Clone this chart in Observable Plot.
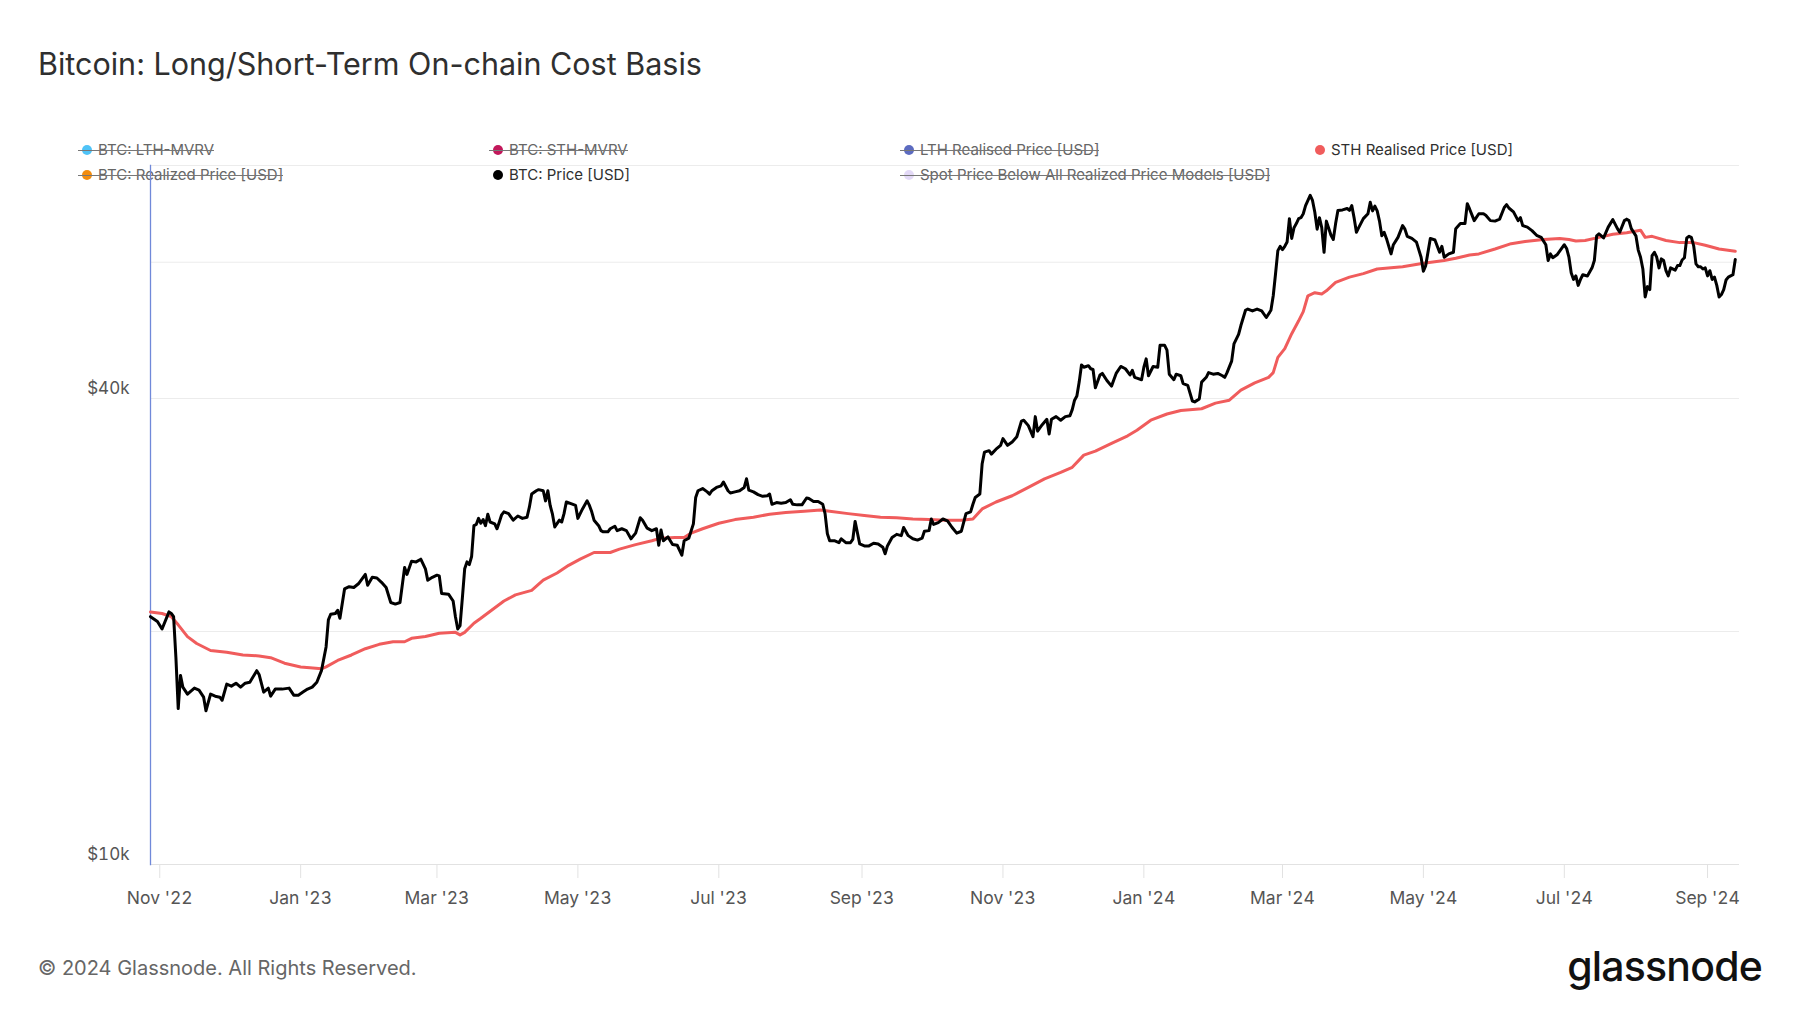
<!DOCTYPE html>
<html>
<head>
<meta charset="utf-8">
<script src="https://cdn.jsdelivr.net/npm/d3@7"></script>
<script src="https://cdn.jsdelivr.net/npm/@observablehq/plot@0.6"></script>
<style>
  html, body { margin: 0; padding: 0; background: #fff; }
  #page { position: relative; width: 1800px; height: 1013px; overflow: hidden; font-family: Inter, "Noto Sans", sans-serif; }
  #title { position: absolute; left: 38px; top: 48px; font-size: 30.5px; line-height: 31px; color: #2f2f2f; white-space: nowrap; }
  #chart { position: absolute; left: 0; top: 100px; }
  .leg { position: absolute; font-size: 15px; line-height: 16px; white-space: nowrap; display: flex; align-items: center; }
  .leg .dot { width: 10px; height: 10px; border-radius: 50%; margin-right: 6px; flex: none; }
  .leg.off { color: #666; }
  .leg.on { color: #2f2f2f; }
  .leg.off::after { content: ""; position: absolute; left: -4px; right: 0; top: 8px; height: 1px; background: #777; }
  #caption { position: absolute; left: 38px; top: 958px; font-size: 20px; line-height: 20px; color: #666; white-space: nowrap; }
  #logo { position: absolute; right: 38px; top: 944px; font-size: 41px; line-height: 44px; font-weight: 500; color: #111; letter-spacing: -0.8px; white-space: nowrap; }
</style>
</head>
<body>
<div id="page">
  <div id="title"></div>
  <div id="legend"></div>
  <div id="chart"></div>
  <div id="caption"></div>
  <div id="logo"></div>
</div>
<script>
// ---------------- DATA ----------------
const chartTitle = "Bitcoin: Long/Short-Term On-chain Cost Basis";
const captionText = "© 2024 Glassnode. All Rights Reserved.";
const logoText = "glassnode";

const legendLabels = [
  "BTC: LTH-MVRV", "BTC: STH-MVRV", "LTH Realised Price [USD]", "STH Realised Price [USD]",
  "BTC: Realized Price [USD]", "BTC: Price [USD]", "Spot Price Below All Realized Price Models [USD]"
];
const legendActive = [false, false, false, true, false, true, false];

const xTickDates = ["2022-11-01","2023-01-01","2023-03-01","2023-05-01","2023-07-01","2023-09-01",
  "2023-11-01","2024-01-01","2024-03-01","2024-05-01","2024-07-01","2024-09-01"];
const xDomain = ["2022-10-28T00:00Z", "2024-09-14T20:00Z"];
const yDomain = [10000, 80000];
const yGridValues = [10000, 20000, 40000, 60000, 80000];
const yLabelValues = [10000, 40000];

// STH Realised Price [USD]
const sthRealisedPrice = [
["2022-10-28",21200],["2022-11-02",21100],["2022-11-06",20900],["2022-11-09",20400],["2022-11-13",19700],
["2022-11-17",19300],["2022-11-23",18900],["2022-11-30",18800],["2022-12-07",18650],["2022-12-14",18600],
["2022-12-19",18500],["2022-12-25",18200],["2023-01-01",18000],["2023-01-05",17950],["2023-01-10",17900],
["2023-01-12",18000],["2023-01-17",18350],["2023-01-23",18650],["2023-01-29",19000],["2023-02-04",19250],
["2023-02-10",19400],["2023-02-15",19400],["2023-02-18",19600],["2023-02-24",19700],["2023-03-02",19900],
["2023-03-09",19950],["2023-03-11",19800],["2023-03-13",19950],["2023-03-17",20500],["2023-03-20",20800],
["2023-03-30",21900],["2023-04-04",22300],["2023-04-11",22600],["2023-04-16",23300],["2023-04-22",23800],
["2023-04-27",24350],["2023-05-02",24800],["2023-05-08",25300],["2023-05-15",25300],["2023-05-19",25550],
["2023-05-26",25900],["2023-06-02",26200],["2023-06-06",26400],["2023-06-12",26450],["2023-06-16",26450],
["2023-06-19",26800],["2023-06-24",27150],["2023-07-01",27600],["2023-07-08",27900],["2023-07-16",28100],
["2023-07-23",28350],["2023-07-30",28500],["2023-08-07",28600],["2023-08-14",28700],["2023-08-18",28600],
["2023-08-26",28400],["2023-09-02",28250],["2023-09-09",28100],["2023-09-16",28050],["2023-09-23",27950],
["2023-09-30",27900],["2023-10-07",27850],["2023-10-14",27850],["2023-10-19",27950],["2023-10-23",28800],
["2023-10-29",29400],["2023-11-05",29950],["2023-11-12",30700],["2023-11-19",31500],["2023-11-26",32100],
["2023-12-01",32600],["2023-12-06",33800],["2023-12-11",34200],["2023-12-18",35000],["2023-12-25",35800],
["2023-12-29",36400],["2024-01-04",37500],["2024-01-11",38200],["2024-01-17",38600],["2024-01-26",38800],
["2024-02-01",39450],["2024-02-07",39800],["2024-02-12",41000],["2024-02-18",41900],["2024-02-24",42600],
["2024-02-26",43200],["2024-02-28",45200],["2024-03-02",46400],["2024-03-05",48500],["2024-03-08",50400],
["2024-03-10",51800],["2024-03-12",54300],["2024-03-15",54800],["2024-03-18",54600],["2024-03-20",55100],
["2024-03-24",56500],["2024-03-30",57400],["2024-04-05",58000],["2024-04-11",58800],["2024-04-17",59000],
["2024-04-22",59200],["2024-05-01",59800],["2024-05-10",60300],["2024-05-15",60700],["2024-05-21",61300],
["2024-05-25",61500],["2024-06-01",62400],["2024-06-08",63400],["2024-06-14",63800],["2024-06-22",64200],
["2024-06-29",64400],["2024-07-03",64200],["2024-07-06",63900],["2024-07-10",64000],["2024-07-16",64600],
["2024-07-22",65200],["2024-07-28",65500],["2024-08-03",66000],["2024-08-05",64600],["2024-08-08",64800],
["2024-08-14",64000],["2024-08-20",63600],["2024-08-26",63600],["2024-08-31",63100],["2024-09-06",62400],
["2024-09-13",62000]
];

// BTC: Price [USD]
const btcPrice = [
["2022-10-28",20900],["2022-10-31",20600],["2022-11-02",20150],["2022-11-05",21200],["2022-11-06",21100],
["2022-11-07",20900],["2022-11-08",18500],["2022-11-09",15900],["2022-11-10",17550],["2022-11-11",16950],
["2022-11-13",16600],["2022-11-14",16700],["2022-11-16",16900],["2022-11-18",16800],["2022-11-20",16450],
["2022-11-21",15800],["2022-11-23",16600],["2022-11-25",16500],["2022-11-27",16450],["2022-11-28",16300],
["2022-11-30",17100],["2022-12-02",17000],["2022-12-04",17150],["2022-12-06",16950],["2022-12-08",17150],
["2022-12-10",17200],["2022-12-13",17800],["2022-12-14",17600],["2022-12-16",16700],["2022-12-18",16900],
["2022-12-19",16500],["2022-12-21",16850],["2022-12-24",16850],["2022-12-27",16900],["2022-12-29",16550],
["2022-12-31",16550],["2023-01-02",16700],["2023-01-04",16850],["2023-01-06",16950],["2023-01-08",17200],
["2023-01-10",17800],["2023-01-12",19100],["2023-01-13",20700],["2023-01-14",21050],["2023-01-16",21100],
["2023-01-17",21300],["2023-01-18",20800],["2023-01-20",22700],["2023-01-22",22850],["2023-01-24",22800],
["2023-01-26",23050],["2023-01-29",23700],["2023-01-30",22950],["2023-02-01",23500],["2023-02-03",23450],
["2023-02-05",23150],["2023-02-07",22800],["2023-02-09",21800],["2023-02-11",21700],["2023-02-13",21800],
["2023-02-15",24200],["2023-02-16",23700],["2023-02-18",24650],["2023-02-20",24600],["2023-02-22",24800],
["2023-02-24",24100],["2023-02-25",23300],["2023-02-27",23500],["2023-03-01",23650],["2023-03-02",23600],
["2023-03-03",22400],["2023-03-06",22350],["2023-03-08",21900],["2023-03-09",20900],["2023-03-10",20150],
["2023-03-11",20350],["2023-03-12",22100],["2023-03-13",24100],["2023-03-14",24600],["2023-03-15",24400],
["2023-03-16",25000],["2023-03-17",27400],["2023-03-18",27500],["2023-03-19",28000],["2023-03-20",27600],
["2023-03-21",27900],["2023-03-22",27400],["2023-03-23",28350],["2023-03-24",27700],["2023-03-26",27550],
["2023-03-27",27150],["2023-03-28",27700],["2023-03-29",28300],["2023-03-30",28550],["2023-04-01",28400],
["2023-04-03",27850],["2023-04-05",28200],["2023-04-07",28000],["2023-04-09",28100],["2023-04-10",28950],
["2023-04-11",30100],["2023-04-13",30400],["2023-04-14",30500],["2023-04-16",30400],["2023-04-17",29500],
["2023-04-18",30400],["2023-04-19",29100],["2023-04-20",28350],["2023-04-21",27300],["2023-04-23",27850],
["2023-04-24",27700],["2023-04-25",28400],["2023-04-26",29400],["2023-04-28",29250],["2023-04-30",29100],
["2023-05-01",28000],["2023-05-03",28800],["2023-05-05",29500],["2023-05-06",29100],["2023-05-07",28550],
["2023-05-08",27850],["2023-05-10",27400],["2023-05-11",27000],["2023-05-12",26900],["2023-05-14",26900],
["2023-05-15",27150],["2023-05-17",27350],["2023-05-18",27000],["2023-05-20",27150],["2023-05-22",27000],
["2023-05-24",26350],["2023-05-26",26800],["2023-05-28",28050],["2023-05-29",27850],["2023-05-31",27200],
["2023-06-02",27000],["2023-06-04",27150],["2023-06-05",25850],["2023-06-06",27050],["2023-06-07",26200],
["2023-06-09",26500],["2023-06-11",25900],["2023-06-13",25850],["2023-06-15",25100],["2023-06-16",26200],
["2023-06-18",26400],["2023-06-20",27550],["2023-06-21",29800],["2023-06-22",30400],["2023-06-24",30600],
["2023-06-26",30300],["2023-06-27",30100],["2023-06-28",30400],["2023-06-30",30700],["2023-07-02",30850],
["2023-07-03",31200],["2023-07-05",30400],["2023-07-06",30200],["2023-07-08",30300],["2023-07-10",30400],
["2023-07-12",30700],["2023-07-13",31500],["2023-07-14",30450],["2023-07-16",30300],["2023-07-18",30050],
["2023-07-20",29900],["2023-07-22",29950],["2023-07-23",30100],["2023-07-24",29200],["2023-07-26",29350],
["2023-07-28",29300],["2023-07-30",29350],["2023-08-01",29600],["2023-08-02",29200],["2023-08-04",29150],
["2023-08-06",29150],["2023-08-08",29750],["2023-08-09",29700],["2023-08-11",29450],["2023-08-13",29450],
["2023-08-15",29200],["2023-08-16",28400],["2023-08-17",26750],["2023-08-18",26200],["2023-08-20",26200],
["2023-08-22",26050],["2023-08-23",26350],["2023-08-25",26050],["2023-08-27",26050],["2023-08-28",26300],
["2023-08-29",27750],["2023-08-31",25950],["2023-09-02",25800],["2023-09-04",25800],["2023-09-06",26000],
["2023-09-08",25950],["2023-09-10",25700],["2023-09-11",25200],["2023-09-12",25800],["2023-09-14",26450],
["2023-09-16",26700],["2023-09-18",26600],["2023-09-19",27250],["2023-09-21",26600],["2023-09-23",26350],
["2023-09-25",26250],["2023-09-27",26400],["2023-09-28",26950],["2023-09-30",27000],["2023-10-01",27950],
["2023-10-02",27500],["2023-10-04",27650],["2023-10-06",27950],["2023-10-08",27800],["2023-10-10",27250],
["2023-10-12",26800],["2023-10-14",26950],["2023-10-16",28400],["2023-10-18",28550],["2023-10-19",29200],
["2023-10-20",29800],["2023-10-22",30100],["2023-10-23",32950],["2023-10-24",34100],["2023-10-26",34250],
["2023-10-27",33900],["2023-10-29",34400],["2023-10-31",34800],["2023-11-01",35500],["2023-11-03",34800],
["2023-11-05",35150],["2023-11-07",35700],["2023-11-09",37400],["2023-11-10",37500],["2023-11-12",36900],
["2023-11-14",35700],["2023-11-15",37900],["2023-11-16",36300],["2023-11-18",37000],["2023-11-20",37600],
["2023-11-21",36000],["2023-11-22",37600],["2023-11-24",37900],["2023-11-26",37500],["2023-11-28",37900],
["2023-11-30",38000],["2023-12-01",38700],["2023-12-02",39800],["2023-12-03",40300],["2023-12-04",42000],
["2023-12-05",44200],["2023-12-06",43900],["2023-12-07",44000],["2023-12-08",44100],["2023-12-09",43700],
["2023-12-10",43600],["2023-12-11",41300],["2023-12-13",42900],["2023-12-14",43100],["2023-12-16",42200],
["2023-12-18",41500],["2023-12-19",42300],["2023-12-20",43100],["2023-12-22",44000],["2023-12-24",43700],
["2023-12-26",42900],["2023-12-27",43500],["2023-12-28",42600],["2023-12-29",42500],["2023-12-31",42300],
["2024-01-01",43900],["2024-01-02",45000],["2024-01-03",42800],["2024-01-05",44000],["2024-01-07",43900],
["2024-01-08",46850],["2024-01-10",46850],["2024-01-11",46200],["2024-01-12",43000],["2024-01-14",42300],
["2024-01-15",43000],["2024-01-17",42800],["2024-01-18",41800],["2024-01-20",41600],["2024-01-22",39700],
["2024-01-23",39600],["2024-01-25",39950],["2024-01-26",42000],["2024-01-28",42600],["2024-01-29",43200],
["2024-01-31",43000],["2024-02-02",43100],["2024-02-04",42800],["2024-02-05",42600],["2024-02-06",43200],
["2024-02-08",44700],["2024-02-09",47050],["2024-02-11",48400],["2024-02-12",49700],["2024-02-14",52000],
["2024-02-15",52200],["2024-02-17",51900],["2024-02-19",52200],["2024-02-21",51900],["2024-02-23",50900],
["2024-02-25",52000],["2024-02-26",54300],["2024-02-27",57970],["2024-02-28",62100],["2024-02-29",62900],
["2024-03-01",62300],["2024-03-02",62900],["2024-03-03",63700],["2024-03-04",68300],["2024-03-05",64400],
["2024-03-06",66500],["2024-03-07",67300],["2024-03-08",68300],["2024-03-09",68500],["2024-03-10",69300],
["2024-03-11",71000],["2024-03-13",73200],["2024-03-14",72100],["2024-03-15",69600],["2024-03-16",66200],
["2024-03-17",68500],["2024-03-18",66500],["2024-03-19",61800],["2024-03-20",67800],["2024-03-22",65000],
["2024-03-23",64200],["2024-03-24",67300],["2024-03-25",70000],["2024-03-27",70100],["2024-03-29",70400],
["2024-03-30",70000],["2024-03-31",71000],["2024-04-01",68500],["2024-04-02",65600],["2024-04-03",66500],
["2024-04-05",68300],["2024-04-07",69300],["2024-04-08",71700],["2024-04-09",69900],["2024-04-10",70900],
["2024-04-11",69900],["2024-04-12",67800],["2024-04-13",64900],["2024-04-14",65600],["2024-04-15",64400],
["2024-04-17",61500],["2024-04-18",63200],["2024-04-20",64600],["2024-04-22",66900],["2024-04-23",66200],
["2024-04-24",64800],["2024-04-26",64400],["2024-04-28",63700],["2024-04-30",60900],["2024-05-01",58400],
["2024-05-02",59400],["2024-05-04",64400],["2024-05-06",64100],["2024-05-08",61800],["2024-05-09",62900],
["2024-05-10",60900],["2024-05-12",61500],["2024-05-14",61800],["2024-05-15",66300],["2024-05-17",67300],
["2024-05-19",67300],["2024-05-20",71400],["2024-05-21",70300],["2024-05-23",67900],["2024-05-25",69300],
["2024-05-27",69300],["2024-05-28",69000],["2024-05-30",67900],["2024-06-01",67800],["2024-06-03",68200],
["2024-06-05",70600],["2024-06-06",71200],["2024-06-07",70500],["2024-06-09",69700],["2024-06-11",67900],
["2024-06-12",68500],["2024-06-13",66900],["2024-06-15",66600],["2024-06-17",65900],["2024-06-19",65000],
["2024-06-21",64600],["2024-06-23",63200],["2024-06-24",60300],["2024-06-25",61500],["2024-06-26",60800],
["2024-06-28",61400],["2024-07-01",63200],["2024-07-02",62500],["2024-07-03",60900],["2024-07-04",58100],
["2024-07-05",57000],["2024-07-06",57600],["2024-07-07",56000],["2024-07-08",57000],["2024-07-09",57800],
["2024-07-11",57600],["2024-07-13",59000],["2024-07-14",60300],["2024-07-15",64900],["2024-07-16",65300],
["2024-07-18",64500],["2024-07-20",66600],["2024-07-22",68100],["2024-07-24",66300],["2024-07-25",65600],
["2024-07-27",67900],["2024-07-28",68200],["2024-07-29",67900],["2024-07-30",66300],["2024-08-01",64900],
["2024-08-02",62200],["2024-08-03",60900],["2024-08-04",58800],["2024-08-05",54100],["2024-08-06",55800],
["2024-08-07",55300],["2024-08-08",61200],["2024-08-09",61800],["2024-08-10",60900],["2024-08-11",59000],
["2024-08-12",60600],["2024-08-13",60300],["2024-08-14",58500],["2024-08-15",57600],["2024-08-16",59000],
["2024-08-18",58600],["2024-08-19",59400],["2024-08-20",59400],["2024-08-21",60400],["2024-08-22",60800],
["2024-08-23",64500],["2024-08-24",64800],["2024-08-25",64600],["2024-08-26",63000],["2024-08-27",59700],
["2024-08-28",59200],["2024-08-29",59200],["2024-08-30",58800],["2024-08-31",59000],["2024-09-01",57600],
["2024-09-02",58500],["2024-09-03",57000],["2024-09-04",57400],["2024-09-05",56000],["2024-09-06",54100],
["2024-09-07",54500],["2024-09-08",55300],["2024-09-09",56900],["2024-09-10",57400],["2024-09-11",57600],
["2024-09-12",57800],["2024-09-13",60500]
];

// ---------------- STYLE ----------------
const legendColors = ["#4fc3f7", "#c2185b", "#5c6bc0", "#f05c5c", "#f28c0f", "#000000", "#e3d9f7"];
const legendLayout = { cols: [87, 498, 909, 1320], rows: [150, 175] };
const colors = { sth: "#f05c5c", price: "#000000", grid: "#ececec", axis: "#e2e2e2", frame: "#7089d9", text: "#555" };

// ---------------- BUILD ----------------
document.getElementById("title").textContent = chartTitle;
document.getElementById("caption").textContent = captionText;
document.getElementById("logo").textContent = logoText;

const legend = document.getElementById("legend");
legendLabels.forEach((label, i) => {
  const col = i % 4, row = Math.floor(i / 4);
  const el = document.createElement("div");
  el.className = "leg " + (legendActive[i] ? "on" : "off");
  el.style.left = (legendLayout.cols[col] - 5) + "px";
  el.style.top = (legendLayout.rows[row] - 8) + "px";
  const dot = document.createElement("span");
  dot.className = "dot";
  dot.style.background = legendColors[i];
  const txt = document.createElement("span");
  txt.textContent = label;
  el.appendChild(dot); el.appendChild(txt);
  legend.appendChild(el);
});

const parse = d => new Date(d + "T00:00Z");
const sth = sthRealisedPrice.map(([d, v]) => ({ date: parse(d), value: v }));
const price = btcPrice.map(([d, v]) => ({ date: parse(d), value: v }));
const fmtX = d3.utcFormat("%b '%y");

const chart = Plot.plot({
  width: 1800,
  height: 820,
  marginTop: 65,
  marginBottom: 56,
  marginLeft: 150,
  marginRight: 61,
  style: { fontFamily: "Inter, 'Noto Sans', sans-serif", fontSize: "17.5px", background: "transparent", color: colors.text },
  x: { type: "utc", domain: xDomain.map(d => new Date(d)) },
  y: { type: "log", domain: yDomain },
  marks: [
    Plot.gridY(yGridValues, { stroke: colors.grid, strokeOpacity: 1 }),
    Plot.ruleY([yDomain[0]], { stroke: colors.axis }),
    Plot.axisX(xTickDates.map(parse), {
      tickSize: 14, tickPadding: 13, tickFormat: fmtX,
      stroke: colors.axis, strokeOpacity: 1, fill: colors.text, label: null
    }),
    Plot.axisY(yLabelValues, {
      tickSize: 0, tickPadding: 21, dy: -10, fontSize: 17,
      tickFormat: d => "$" + d / 1000 + "k", fill: colors.text, label: null
    }),
    Plot.frame({ anchor: "left", stroke: colors.frame, strokeWidth: 1.3 }),
    Plot.line(sth, { x: "date", y: "value", stroke: colors.sth, strokeWidth: 3, curve: "linear" }),
    Plot.line(price, { x: "date", y: "value", stroke: colors.price, strokeWidth: 3, curve: "linear" })
  ]
});
document.getElementById("chart").appendChild(chart);
</script>
</body>
</html>
